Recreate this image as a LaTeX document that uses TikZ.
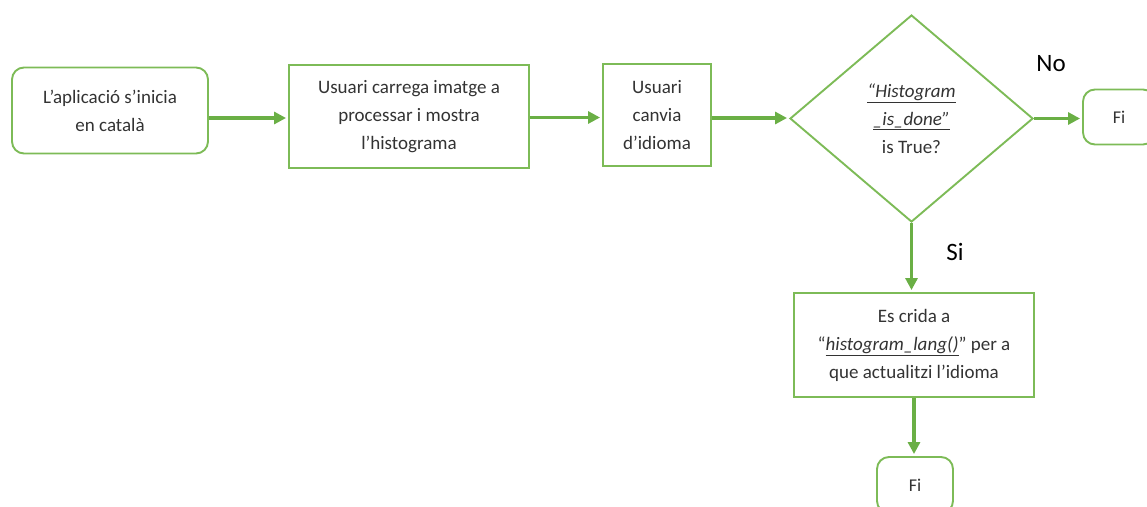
\documentclass[tikz,border=0pt]{standalone}
\usepackage{fontspec}
\setmainfont{Carlito}
\usetikzlibrary{shapes.geometric,arrows.meta}
\definecolor{flowgreen}{HTML}{7DBB57}
\definecolor{arrowgreen}{HTML}{6AAF45}
\definecolor{inkgray}{HTML}{333333}
\tikzset{
  box/.style={draw=flowgreen, line width=1.9pt, fill=white, align=center,
    inner sep=0pt, text=inkgray, font=\fontsize{19}{28}\selectfont},
  roundbox/.style={box, rounded corners=12pt},
  decision/.style={box, diamond, aspect=1.17},
  arr/.style={draw=arrowgreen, line width=3.3pt,
    -{Triangle[length=12pt,width=12pt]}, shorten >=2pt},
  tag/.style={text=black, font=\fontsize{25}{28}\selectfont, inner sep=0pt}
}
\newcommand{\ul}[1]{\underline{\textit{#1}}}
\begin{document}
\begin{tikzpicture}[x=1pt,y=-1pt]
  \useasboundingbox (0,0) rectangle (1147,506);
  \clip (0,0) rectangle (1147,506);

  % main row
  \node[roundbox, minimum width=196pt, minimum height=86pt] (start) at (110,110.5)
    {L’aplicació s’inicia\\en català};
  \node[box, minimum width=240pt, minimum height=103pt] (load) at (409,116.5)
    {Usuari carrega imatge a\\processar i mostra\\l’histograma};
  \node[box, minimum width=108pt, minimum height=102pt] (lang) at (657,115)
    {Usuari\\canvia\\d’idioma};
  \node[decision, minimum width=243pt, minimum height=207pt] (check) at (911.5,118.5)
    {\ul{“Histogram}\\\ul{\_is\_done”}\\is True?};
  \node[roundbox, font=\fontsize{18}{20}\selectfont,
    minimum width=72pt, minimum height=55pt] (endno) at (1119,117) {Fi};

  % lower branch
  \node[box, minimum width=240pt, minimum height=104pt] (call) at (914,345)
    {Es crida a\\“\ul{histogram\_lang()}” per a\\que actualitzi l’idioma};
  \node[roundbox, font=\fontsize{18}{20}\selectfont,
    minimum width=76pt, minimum height=56pt] (endyes) at (915,485) {Fi};

  % connectors
  \draw[arr] ([yshift=-7.5pt]start.east) -- ([yshift=-7.5pt]start.east -| load.west);
  \draw[arr] ([yshift=-1pt]load.east) -- ([yshift=-1pt]load.east -| lang.west);
  \draw[arr] ([yshift=-3pt]lang.east) -- ([yshift=-3pt]lang.east -| check.west);
  \draw[arr] (check.east) -- (check.east -| endno.west);
  \draw[arr] (check.south) -- (check.south |- call.north);
  \draw[arr] (call.south) -- (call.south |- endyes.north);

  % branch labels
  \node[tag] (no) at (1051,64) {No};
  \node[tag] (si) at (955,252) {Si};
\end{tikzpicture}
\end{document}
